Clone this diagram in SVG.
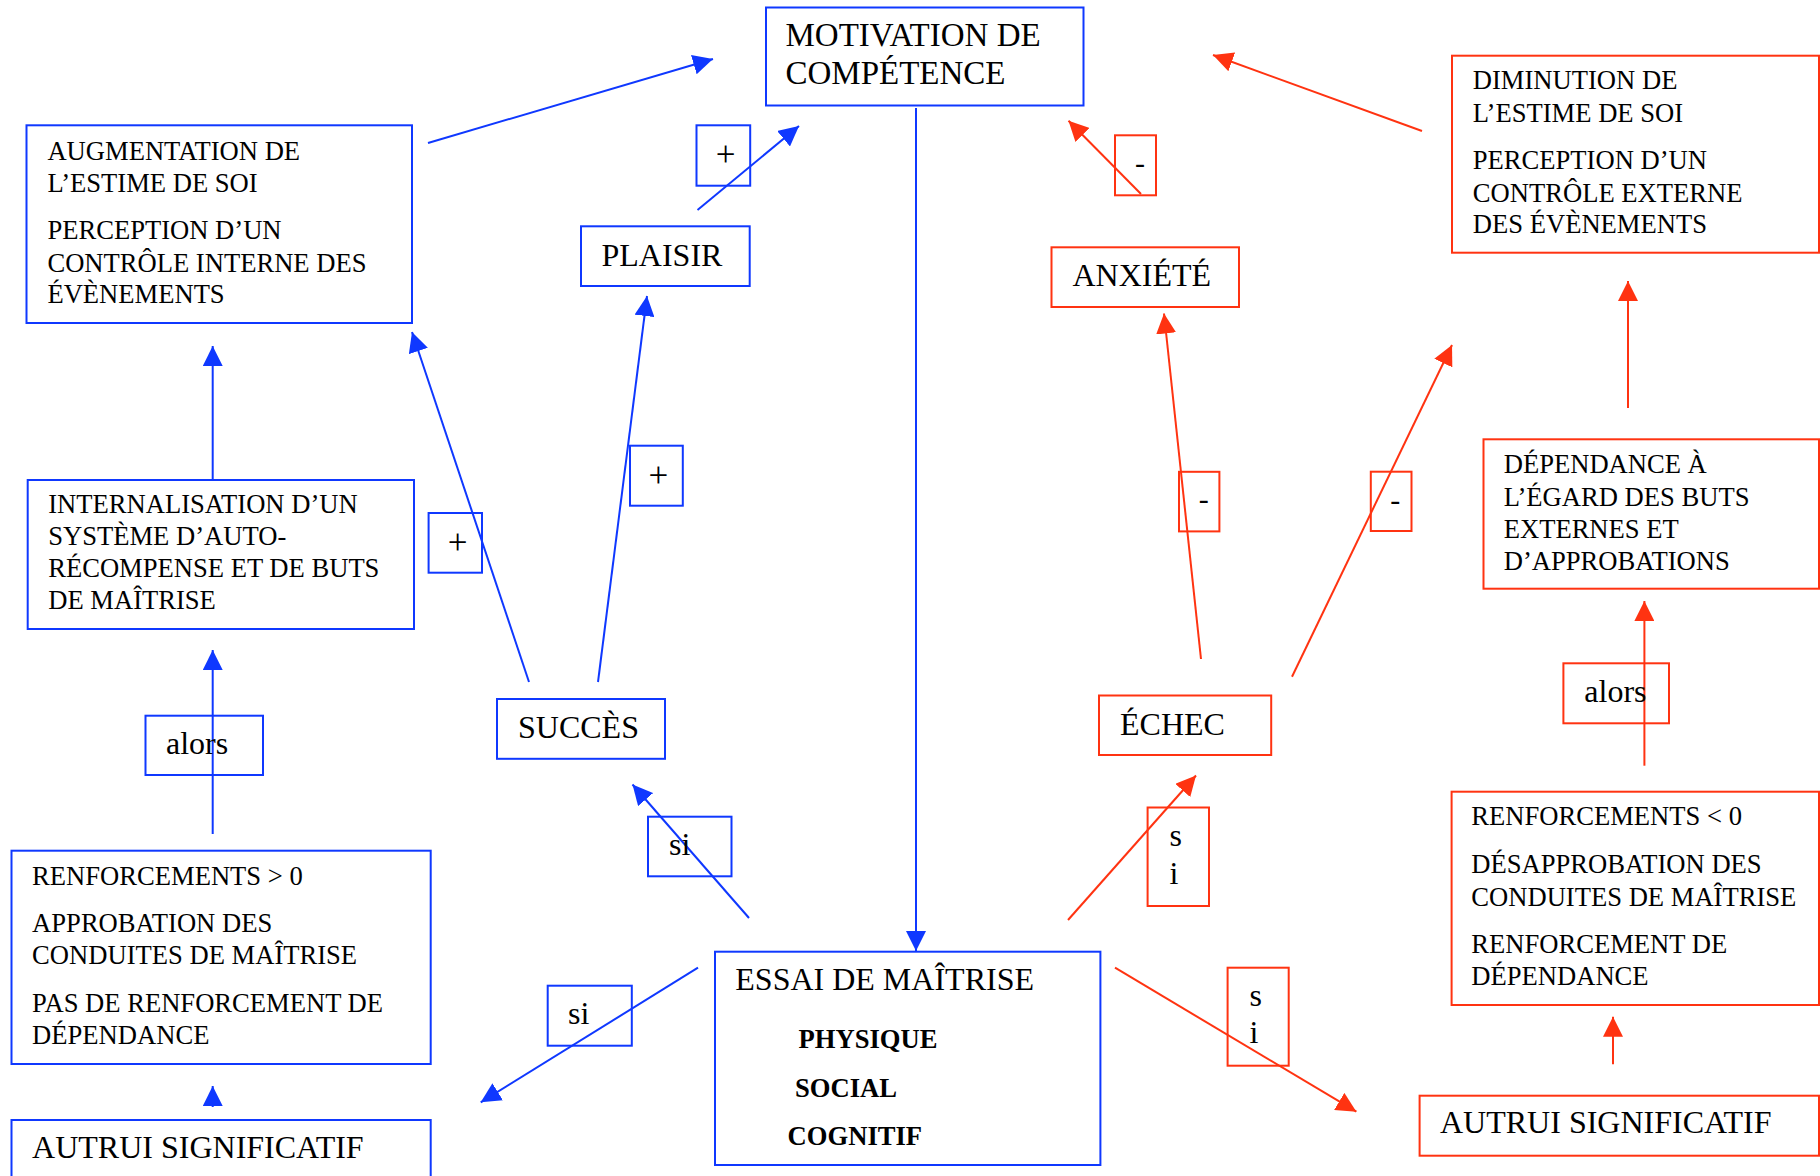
<svg xmlns="http://www.w3.org/2000/svg" width="1820" height="1176" viewBox="0 0 1820 1176">
  <style>
    text { font-family: "Liberation Serif", "Times New Roman", serif; fill: #000; }
    .big { font-size: 32px; }
    .title { font-size: 33px; }
    .sm { font-size: 26.6px; }
    .bold { font-size: 26.6px; font-weight: bold; }
    .plus { font-size: 35px; }
    .minus { font-size: 30px; }
    .bbox { fill: #fff; stroke: #0f38ff; stroke-width: 2; }
    .rbox { fill: #fff; stroke: #ff3311; stroke-width: 2; }
    .lbl-b { fill: none; stroke: #0f38ff; stroke-width: 2; }
    .lbl-r { fill: none; stroke: #ff3311; stroke-width: 2; }
    .cb { stroke: #0f38ff; stroke-width: 2; fill: none; marker-end: url(#ah-blue); }
    .cr { stroke: #ff3311; stroke-width: 2; fill: none; marker-end: url(#ah-red); }
  </style>
  <defs>
    <marker id="ah-blue" markerUnits="userSpaceOnUse" markerWidth="20" markerHeight="20" refX="20" refY="10" orient="auto">
      <path d="M0,0 L20,10 L0,20 z" fill="#0f38ff"/>
    </marker>
    <marker id="ah-red" markerUnits="userSpaceOnUse" markerWidth="20" markerHeight="20" refX="20" refY="10" orient="auto">
      <path d="M0,0 L20,10 L0,20 z" fill="#ff3311"/>
    </marker>
  </defs>
  <rect width="1820" height="1176" fill="#fff"/>

  <!-- nodes -->
  <g id="motivation">
    <rect class="bbox" x="766" y="7.5" width="317.5" height="98"/>
    <text class="title" x="785.5" y="45.7">MOTIVATION DE</text>
    <text class="title" x="785.5" y="84">COMPÉTENCE</text>
  </g>
  <g id="augmentation">
    <rect class="bbox" x="26.5" y="125.3" width="385.5" height="197.7"/>
    <text class="sm" x="47.4" y="160">AUGMENTATION DE</text>
    <text class="sm" x="47.4" y="192">L’ESTIME DE SOI</text>
    <text class="sm" x="47.4" y="239">PERCEPTION D’UN</text>
    <text class="sm" x="47.4" y="272">CONTRÔLE INTERNE DES</text>
    <text class="sm" x="47.4" y="303">ÉVÈNEMENTS</text>
  </g>
  <g id="plaisir">
    <rect class="bbox" x="581" y="226.3" width="168.7" height="59.7"/>
    <text class="big" x="601.5" y="265.7">PLAISIR</text>
  </g>
  <g id="anxiete">
    <rect class="rbox" x="1051.5" y="247.3" width="187.5" height="59.7"/>
    <text class="big" x="1072.5" y="285.7">ANXIÉTÉ</text>
  </g>
  <g id="diminution">
    <rect class="rbox" x="1452" y="55.7" width="367" height="197"/>
    <text class="sm" x="1472.8" y="89.3">DIMINUTION DE</text>
    <text class="sm" x="1472.8" y="121.7">L’ESTIME DE SOI</text>
    <text class="sm" x="1472.8" y="169.3">PERCEPTION D’UN</text>
    <text class="sm" x="1472.8" y="201.7">CONTRÔLE EXTERNE</text>
    <text class="sm" x="1472.8" y="233.3">DES ÉVÈNEMENTS</text>
  </g>
  <g id="internalisation">
    <rect class="bbox" x="27.7" y="480" width="386.3" height="149"/>
    <text class="sm" x="48.2" y="513.3">INTERNALISATION D’UN</text>
    <text class="sm" x="48.2" y="545">SYSTÈME D’AUTO-</text>
    <text class="sm" x="48.2" y="577.3">RÉCOMPENSE ET DE BUTS</text>
    <text class="sm" x="48.2" y="609.3">DE MAÎTRISE</text>
  </g>
  <g id="dependance">
    <rect class="rbox" x="1483.5" y="439.3" width="335.5" height="149.4"/>
    <text class="sm" x="1503.7" y="473.3">DÉPENDANCE À</text>
    <text class="sm" x="1503.7" y="505.7">L’ÉGARD DES BUTS</text>
    <text class="sm" x="1503.7" y="537.7">EXTERNES ET</text>
    <text class="sm" x="1503.7" y="570">D’APPROBATIONS</text>
  </g>
  <g id="succes">
    <rect class="bbox" x="497" y="699" width="168" height="59.8"/>
    <text class="big" x="518" y="738">SUCCÈS</text>
  </g>
  <g id="echec">
    <rect class="rbox" x="1099" y="695.5" width="172.2" height="59.5"/>
    <text class="big" x="1120" y="734.7">ÉCHEC</text>
  </g>
  <g id="renforcements-pos">
    <rect class="bbox" x="11.5" y="850.7" width="419.2" height="213.3"/>
    <text class="sm" x="32.1" y="885">RENFORCEMENTS &gt; 0</text>
    <text class="sm" x="32.1" y="932.3">APPROBATION DES</text>
    <text class="sm" x="32.1" y="964.3">CONDUITES DE MAÎTRISE</text>
    <text class="sm" x="32.1" y="1012.3">PAS DE RENFORCEMENT DE</text>
    <text class="sm" x="32.1" y="1044.3">DÉPENDANCE</text>
  </g>
  <g id="renforcements-neg">
    <rect class="rbox" x="1451.6" y="791.7" width="367.4" height="213.3"/>
    <text class="sm" x="1471.3" y="825">RENFORCEMENTS &lt; 0</text>
    <text class="sm" x="1471.3" y="873.3">DÉSAPPROBATION DES</text>
    <text class="sm" x="1471.3" y="905.7">CONDUITES DE MAÎTRISE</text>
    <text class="sm" x="1471.3" y="953.3">RENFORCEMENT DE</text>
    <text class="sm" x="1471.3" y="985">DÉPENDANCE</text>
  </g>
  <g id="essai">
    <rect class="bbox" x="715" y="951.7" width="385.4" height="213.3"/>
    <text class="big" x="735.3" y="990">ESSAI DE MAÎTRISE</text>
    <text class="bold" x="798.5" y="1048.3">PHYSIQUE</text>
    <text class="bold" x="795" y="1097.3">SOCIAL</text>
    <text class="bold" x="787.6" y="1145">COGNITIF</text>
  </g>
  <g id="autrui-gauche">
    <rect class="bbox" x="11.5" y="1120" width="419.2" height="70"/>
    <text class="big" x="32.1" y="1158.3">AUTRUI SIGNIFICATIF</text>
  </g>
  <g id="autrui-droite">
    <rect class="rbox" x="1419.6" y="1095.7" width="399.4" height="60"/>
    <text class="big" x="1440" y="1133.3">AUTRUI SIGNIFICATIF</text>
  </g>

  <!-- connectors -->
  <g id="connectors">
    <line class="cb" x1="428" y1="143" x2="713" y2="59"/>
    <line class="cb" x1="697.5" y1="210" x2="799" y2="126"/>
    <line class="cb" x1="916" y1="108" x2="916" y2="951"/>
    <line class="cb" x1="529" y1="682" x2="412" y2="332"/>
    <line class="cb" x1="598" y1="682" x2="647" y2="296"/>
    <line class="cb" x1="212.7" y1="479" x2="212.7" y2="346"/>
    <line class="cb" x1="212.7" y1="834" x2="212.7" y2="650"/>
    <line class="cb" x1="749" y1="918" x2="632.5" y2="784.5"/>
    <line class="cb" x1="698" y1="967.7" x2="480.7" y2="1102.3"/>
    <line class="cb" x1="212.7" y1="1107" x2="212.7" y2="1086"/>

    <line class="cr" x1="1422" y1="131" x2="1213" y2="55"/>
    <line class="cr" x1="1141" y1="194" x2="1068.5" y2="120.7"/>
    <line class="cr" x1="1201" y1="659" x2="1164" y2="313.5"/>
    <line class="cr" x1="1292" y1="676.7" x2="1452" y2="345"/>
    <line class="cr" x1="1628" y1="408" x2="1628" y2="281"/>
    <line class="cr" x1="1644.4" y1="765.7" x2="1644.4" y2="601"/>
    <line class="cr" x1="1068" y1="920" x2="1196" y2="775.5"/>
    <line class="cr" x1="1115" y1="967.7" x2="1356.4" y2="1111.7"/>
    <line class="cr" x1="1613" y1="1064.3" x2="1613" y2="1016.7"/>
  </g>

  <!-- connector labels -->
  <g id="label-plus-plaisir">
    <rect class="lbl-b" x="696.5" y="125.3" width="53.7" height="60.4"/>
    <text class="plus" x="725.5" y="166" text-anchor="middle">+</text>
  </g>
  <g id="label-plus-augmentation">
    <rect class="lbl-b" x="428.6" y="513" width="53.4" height="59.7"/>
    <text class="plus" x="457.7" y="554" text-anchor="middle">+</text>
  </g>
  <g id="label-plus-succes">
    <rect class="lbl-b" x="630" y="445.7" width="52.8" height="60"/>
    <text class="plus" x="658.4" y="486.5" text-anchor="middle">+</text>
  </g>
  <g id="label-moins-anxiete">
    <rect class="lbl-r" x="1115" y="135.3" width="41" height="60"/>
    <text class="minus" x="1140" y="173" text-anchor="middle">-</text>
  </g>
  <g id="label-moins-echec">
    <rect class="lbl-r" x="1179" y="471.8" width="40.4" height="59.6"/>
    <text class="minus" x="1203.7" y="509" text-anchor="middle">-</text>
  </g>
  <g id="label-moins-diminution">
    <rect class="lbl-r" x="1370.8" y="471.7" width="40.7" height="59.3"/>
    <text class="minus" x="1395.3" y="509.5" text-anchor="middle">-</text>
  </g>
  <g id="label-alors-bleu">
    <rect class="lbl-b" x="145.5" y="715.7" width="117.5" height="59.3"/>
    <text class="big" x="166" y="754.3">alors</text>
  </g>
  <g id="label-alors-rouge">
    <rect class="lbl-r" x="1563.4" y="663.3" width="105.6" height="60"/>
    <text class="big" x="1584.3" y="702.3">alors</text>
  </g>
  <g id="label-si-succes">
    <rect class="lbl-b" x="648" y="816.7" width="83.5" height="59.6"/>
    <text class="big" x="669" y="855">si</text>
  </g>
  <g id="label-si-autrui-gauche">
    <rect class="lbl-b" x="547.7" y="985.7" width="84.1" height="60"/>
    <text class="big" x="568" y="1024">si</text>
  </g>
  <g id="label-si-echec">
    <rect class="lbl-r" x="1147.6" y="807.5" width="61.4" height="98.5"/>
    <text class="big" x="1169.4" y="846">s</text>
    <text class="big" x="1169.4" y="884">i</text>
  </g>
  <g id="label-si-autrui-droite">
    <rect class="lbl-r" x="1227.6" y="967.7" width="61.1" height="98"/>
    <text class="big" x="1249.5" y="1006">s</text>
    <text class="big" x="1249.5" y="1043.3">i</text>
  </g>
</svg>
